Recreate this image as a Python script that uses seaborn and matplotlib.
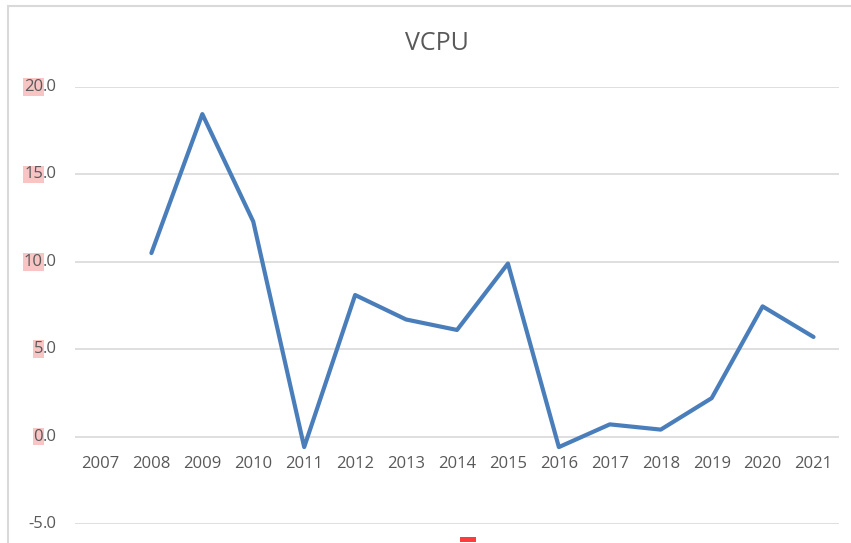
import numpy as np
import pandas as pd
import seaborn as sns
import matplotlib.pyplot as plt
from matplotlib.patches import Rectangle, FancyBboxPatch
from matplotlib.transforms import blended_transform_factory

# data
years = [2007, 2008, 2009, 2010, 2011, 2012, 2013, 2014, 2015, 2016, 2017, 2018, 2019, 2020, 2021]
vcpu = [np.nan, 10.5, 18.45, 12.3, -0.6, 8.1, 6.7, 6.1, 9.9, -0.6, 0.7, 0.4, 2.2, 7.45, 5.7]
y_ticks = [-5, 0, 5, 10, 15, 20]
highlighted = [0, 5, 10, 15, 20]

df = pd.DataFrame({'year': years, 'VCPU': vcpu}).dropna()

sns.set_style('white')
plt.rcParams['font.family'] = ['Open Sans', 'DejaVu Sans']

W, H = 851, 543
fig = plt.figure(figsize=(W / 100, H / 100), dpi=100)
ax = fig.add_axes([75 / W, (H - 524) / H, (839 - 75) / W, (524 - 87) / H])

sns.lineplot(data=df, x='year', y='VCPU', ax=ax, color='#4a7ebb', linewidth=3.0,
             clip_on=False)

ax.set_xlim(2006.5, 2021.5)
ax.set_ylim(-5, 20)
ax.set_yticks(y_ticks)
ax.yaxis.grid(True, color='#d9d9d9', linewidth=1.2)
ax.set_axisbelow(True)
for s in ax.spines.values():
    s.set_visible(False)
ax.spines['bottom'].set_position(('data', 0))
ax.set_xticks(years)
ax.set_xticklabels([str(y) for y in years], fontsize=12, color='#595959')
ax.tick_params(axis='x', length=0, pad=14)
ax.tick_params(axis='y', length=0, labelleft=False)
ax.set_xlabel('')
ax.set_ylabel('')

# y tick labels, integer part highlighted like in the screenshot
trans = blended_transform_factory(fig.transFigure, ax.transData)
for v in y_ticks:
    tail = ax.text(57 / W, v, '.0', transform=trans, ha='right', va='center',
                   fontsize=12, color='#595959', clip_on=False)
    box = dict(boxstyle='square,pad=0.05', fc='#f8c4c4', ec='none') if v in highlighted else None
    ax.annotate('%d' % v, xy=(0, 0.5), xycoords=tail, ha='right', va='center',
                fontsize=12, color='#595959', bbox=box, annotation_clip=False)

fig.text(437 / W, (H - 44) / H, 'VCPU', ha='center', va='center', fontsize=18,
         color='#595959')

# chart frame and the stray red mark at the bottom
fig.add_artist(Rectangle((8 / W, -0.1), 1.0, 1.1 - 6 / H, transform=fig.transFigure,
                         fill=False, ec='#d9d9d9', lw=1.5))
fig.add_artist(FancyBboxPatch((460 / W, (H - 542) / H), 16 / W, 5 / H,
                              boxstyle='round,pad=0', transform=fig.transFigure,
                              fc='#ff3b3b', ec='none'))

fig.savefig('out.png', dpi=100)
